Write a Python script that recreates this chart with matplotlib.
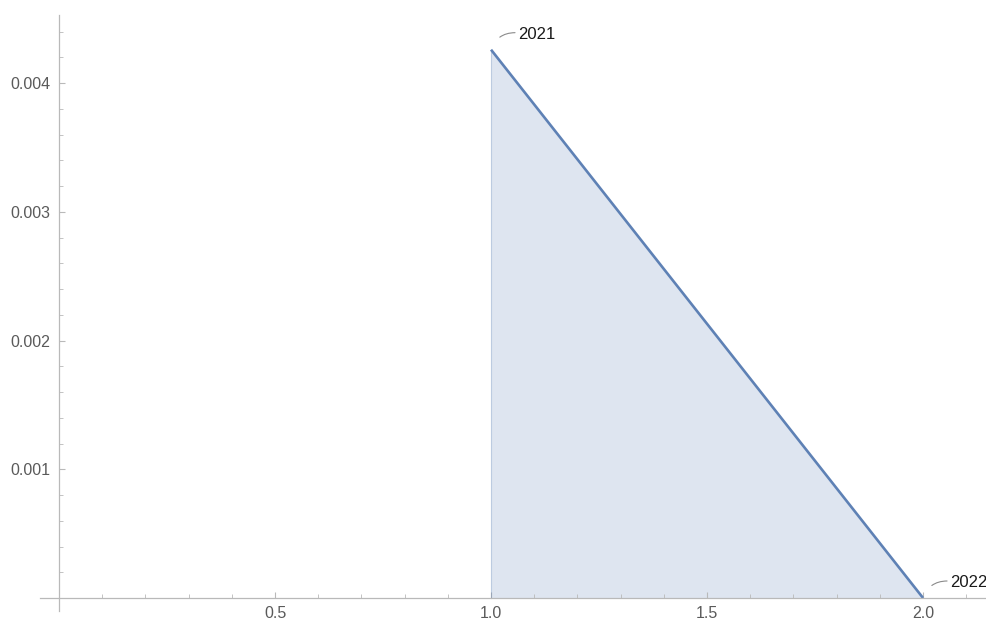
import matplotlib
matplotlib.use("Agg")
import matplotlib.pyplot as plt
import numpy as np
from matplotlib.ticker import MultipleLocator, FixedLocator

# series
years = ["2021", "2022"]
x_vals = [1.0, 2.0]
y_vals = [0.00426, 0.0]

x_major = [0.5, 1.0, 1.5, 2.0]
x_major_labels = ["0.5", "1.0", "1.5", "2.0"]
y_major = [0.001, 0.002, 0.003, 0.004]
y_major_labels = ["0.001", "0.002", "0.003", "0.004"]

line_color = "#5e81b5"
axis_color = "#b9b9b9"
label_color = "#5a5a5a"

plt.rcParams["font.family"] = ["Liberation Sans", "DejaVu Sans"]

fig = plt.figure(figsize=(9.87, 6.22), dpi=100)
ax = fig.add_axes([0, 0, 1, 1])

ax.fill_between(x_vals, y_vals, 0, color=line_color, alpha=0.2, linewidth=0)
ax.plot([x_vals[0], x_vals[0]], [0, y_vals[0]], color=line_color, alpha=0.35, lw=0.8)
ax.plot(x_vals, y_vals, color=line_color, lw=1.9, solid_capstyle="butt")

ax.set_xlim(-0.1366, 2.148)
ax.set_ylim(-0.0001865, 0.004646)

for s in ("top", "right"):
    ax.spines[s].set_visible(False)
ax.spines["left"].set_position(("data", 0))
ax.spines["bottom"].set_position(("data", 0))
ax.spines["left"].set_bounds(-0.0001, 0.00453)
ax.spines["bottom"].set_bounds(-0.044, 2.148)
for s in ("left", "bottom"):
    ax.spines[s].set_color(axis_color)
    ax.spines[s].set_linewidth(0.9)

ax.xaxis.set_major_locator(FixedLocator(x_major))
ax.set_xticklabels(x_major_labels)
ax.xaxis.set_minor_locator(FixedLocator(np.round(np.arange(0.1, 2.15, 0.1), 2)))
ax.yaxis.set_major_locator(FixedLocator(y_major))
ax.set_yticklabels(y_major_labels)
ax.yaxis.set_minor_locator(FixedLocator(np.round(np.arange(0.0002, 0.00455, 0.0002), 5)))

ax.tick_params(which="both", direction="in", color=axis_color, labelcolor=label_color,
               labelsize=11.5)
ax.tick_params(which="major", length=4.5, width=0.8)
ax.tick_params(which="minor", length=2.6, width=0.6)
ax.tick_params(axis="x", which="major", pad=5.5)
ax.tick_params(axis="y", which="major", pad=6)

ax.set_facecolor("white")

for yr, xv, yv in zip(years, x_vals, y_vals):
    # label text beside the point
    ax.annotate(yr, xy=(xv, yv), xytext=(27, 15), textcoords="offset pixels",
                ha="left", va="center", fontsize=12, color="#1a1a1a",
                annotation_clip=False)
    # short curved leader from the point towards the label
    ax.annotate("", xy=(xv, yv), xytext=(24, 17), textcoords="offset pixels",
                annotation_clip=False,
                arrowprops=dict(arrowstyle="-", color="#8a8a8a", lw=0.8,
                                shrinkA=0, shrinkB=11,
                                connectionstyle="arc3,rad=0.35"))

fig.savefig("out.png", dpi=100)
